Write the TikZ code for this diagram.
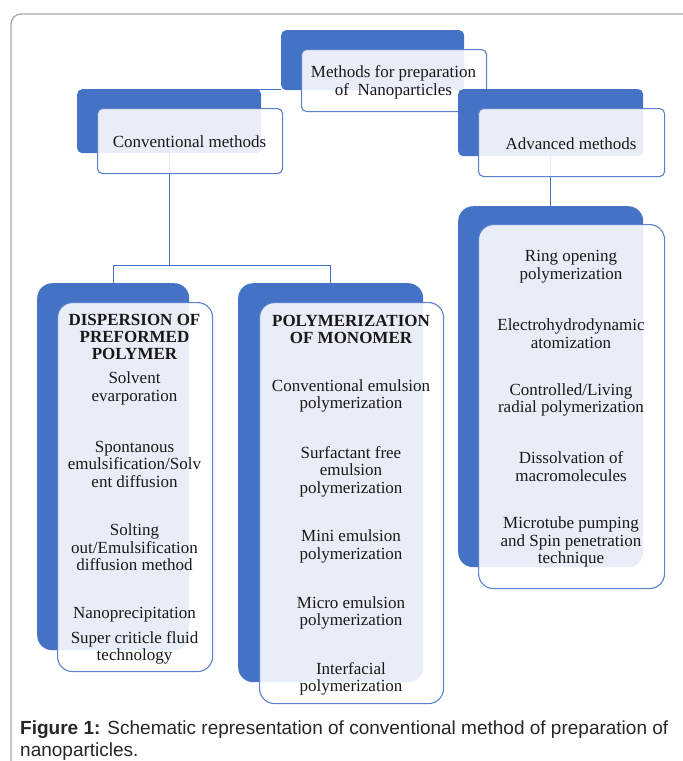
\documentclass[tikz,border=0pt]{standalone}
\usepackage{fontspec}
\setmainfont{Liberation Serif}
\newfontfamily\captionfont{Liberation Sans}
\usepackage{tikz}
\usetikzlibrary{positioning}
\usetikzlibrary{backgrounds}

\definecolor{smartblue}{HTML}{4472C4}
\definecolor{smartedge}{HTML}{5A82CC}
\definecolor{framegray}{HTML}{A8A8A8}

\begin{document}
\begin{tikzpicture}
 [ x=1pt
 , y=-1pt
 , every node/.style={inner sep=0pt, align=center, text=black!90, font=\fontsize{17}{17.5}\selectfont}
 , back/.style={fill=smartblue, anchor=north west}
 , front/.style={draw=smartedge, line width=1.1pt, fill=white, fill opacity=0.88, anchor=north west}
 , small/.style={rounded corners=5pt}
 , tall/.style={rounded corners=15pt}
 , link/.style={draw=smartblue, line width=1.4pt}
 , heading/.style={font=\bfseries\fontsize{17}{17}\selectfont}
 ]
  \useasboundingbox (0,0) rectangle (683,761);
  \clip (0,0) rectangle (683,761);

  % top level
  \node [back, small, minimum width=183pt, minimum height=60pt] (topback) at (281,30) {};
  \node [front, small, minimum width=185pt, minimum height=62pt] (topfront) at (301,49) {};
  \node [font=\fontsize{17}{18}\selectfont] (toptext) at (393.5,82) {Methods for preparation\\of\ \ Nanoparticles};

  % second level
  \node [back, small, minimum width=184pt, minimum height=64pt] (convback) at (77,89) {};
  \node [front, small, minimum width=185pt, minimum height=65pt] (convfront) at (97,108) {};
  \node (convtext) at (189.5,142) {Conventional methods};

  \node [back, small, minimum width=185pt, minimum height=67pt] (advback) at (458,89) {};
  \node [front, small, minimum width=186pt, minimum height=68pt] (advfront) at (478,108) {};
  \node (advtext) at (571,144) {Advanced methods};

  % dispersion of preformed polymer
  \node [back, tall, minimum width=152pt, minimum height=367pt] (dispback) at (37,283) {};
  \node [front, tall, minimum width=155pt, minimum height=369pt] (dispfront) at (57,302) {};
  \node [heading] (disphead) at (134.5,337) {DISPERSION OF\\PREFORMED\\POLYMER};
  \node (disp1) at (134.5,388.5) {Solvent\\evarporation};
  \node (disp2) at (134.5,464) {Spontanous\\emulsification/Solv\\ent diffusion};
  \node (disp3) at (134.5,547.5) {Solting\\out/Emulsification\\diffusion method};
  \node (disp4) at (134.5,615) {Nanoprecipitation};
  \node (disp5) at (134.5,648) {Super criticle fluid\\technology};

  % polymerization of monomer
  \node [back, tall, minimum width=185pt, minimum height=399pt] (polyback) at (238,283) {};
  \node [front, tall, minimum width=184pt, minimum height=401pt] (polyfront) at (259,302) {};
  \node [heading] (polyhead) at (351,329) {POLYMERIZATION\\OF MONOMER};
  \node (poly1) at (351,396) {Conventional emulsion\\polymerization};
  \node (poly2) at (351,471.5) {Surfactant free\\emulsion\\polymerization};
  \node (poly3) at (351,546.5) {Mini emulsion\\polymerization};
  \node (poly4) at (351,613) {Micro emulsion\\polymerization};
  \node (poly5) at (351,679) {Interfacial\\polymerization};

  % advanced list
  \node [back, tall, minimum width=185pt, minimum height=361pt] (listback) at (458,206) {};
  \node [front, tall, minimum width=186pt, minimum height=364pt] (listfront) at (478,224) {};
  \node (list1) at (571,266.5) {Ring opening\\polymerization};
  \node (list2) at (571,333.5) {Electrohydrodynamic\\atomization};
  \node (list3) at (571,400) {Controlled/Living\\radial polymerization};
  \node (list4) at (571,466.5) {Dissolvation of\\macromolecules};
  \node (list5) at (571,542) {Microtube pumping\\and Spin penetration\\technique};

  \coordinate [below=112pt of convback.south] (fork);

  \begin{scope}[on background layer]
    \draw [framegray, line width=1.3pt, rounded corners=10pt] (11,14) rectangle (720,800);
    \draw [link] ([yshift=1pt]topback.south west) -| (convback.north);
    \draw [link] ([yshift=1pt]topback.south east) -| (advback.north);
    \draw [link] (convback.south) -- (fork);
    \draw [link] (fork) -| (dispback.north);
    \draw [link] (fork) -| (polyback.north);
    \draw [link] (advback.south) -- (listback.north);
  \end{scope}

  \node [anchor=west, align=left, text=black!85, font=\captionfont\fontsize{19}{22}\selectfont] (caption) at (20,740.5)
    {\textbf{Figure 1:} Schematic representation of conventional method of preparation of\\nanoparticles.};
\end{tikzpicture}
\end{document}
